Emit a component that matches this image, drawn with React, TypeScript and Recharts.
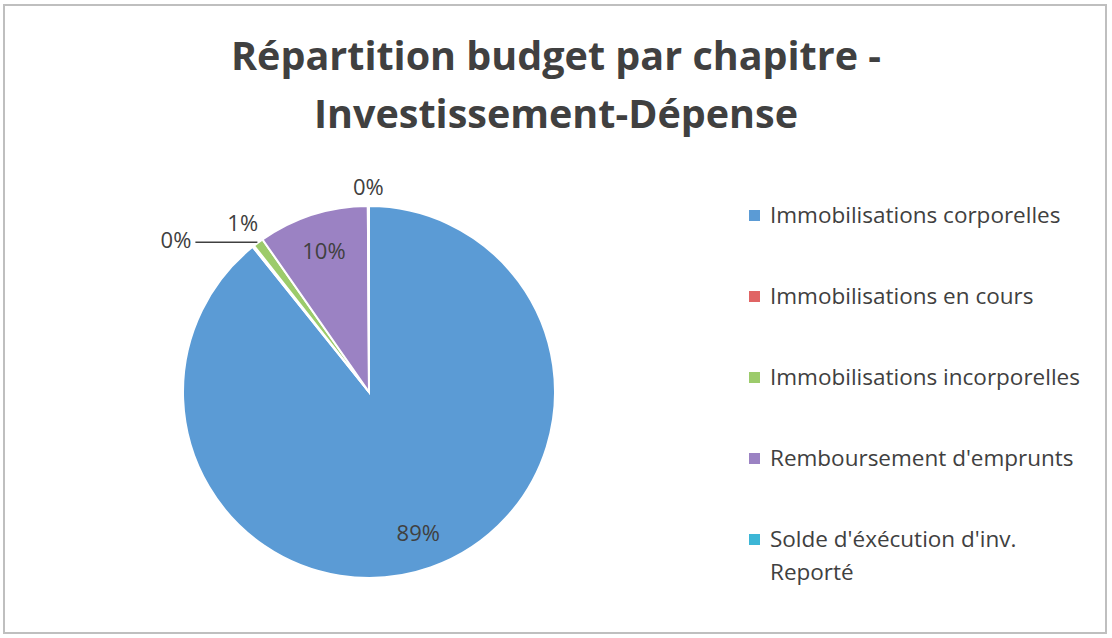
import { PieChart, Pie, Cell, Legend } from "recharts"

const categories = [
    "Immobilisations corporelles",
    "Immobilisations en cours",
    "Immobilisations incorporelles",
    "Remboursement d'emprunts",
    "Solde d'éxécution d'inv. Reporté",
]
const shares = [89.25, 0.15, 0.9, 9.6, 0.1]
const colors = ["#5b9bd5", "#e06464", "#9ccb6b", "#9b82c3", "#3cb6d6"]

const data = categories.map((name, i) => ({ name, value: shares[i] }))

const RAD = Math.PI / 180
const textColor = "#404040"
const labelSize = 22

function renderLabel(props: any) {
    const { cx, cy, midAngle, outerRadius, percent, index } = props
    const txt = `${Math.round(percent * 100)}%`
    const cos = Math.cos(-midAngle * RAD)
    const sin = Math.sin(-midAngle * RAD)
    if (index === 0 || index === 3) {
        const r = outerRadius * 0.8
        return (
            <text x={cx + r * cos} y={cy + r * sin} fill={textColor} fontSize={labelSize}
                textAnchor="middle" dominantBaseline="central" fontFamily="Open Sans">
                {txt}
            </text>
        )
    }
    if (index === 1) {
        // leader line pulled left, like the original
        const ex = cx + outerRadius * cos
        const ey = cy + outerRadius * sin - 4
        return (
            <g>
                <line x1={ex + 4} y1={ey} x2={ex - 58} y2={ey} stroke={textColor} strokeWidth={1.5} />
                <text x={ex - 62} y={ey - 3} fill={textColor} fontSize={labelSize}
                    textAnchor="end" dominantBaseline="central" fontFamily="Open Sans">
                    {txt}
                </text>
            </g>
        )
    }
    const r = outerRadius * (index === 2 ? 1.14 : 1.11)
    return (
        <text x={cx + r * cos} y={cy + r * sin} fill={textColor} fontSize={labelSize}
            textAnchor="middle" dominantBaseline="central" fontFamily="Open Sans">
            {txt}
        </text>
    )
}

function LegendList() {
    return (
        <div style={{ fontFamily: "Open Sans", fontSize: 22.5, color: textColor }}>
            {categories.map((c, i) => (
                <div key={c} style={{ display: "flex", alignItems: "flex-start", height: 81 }}>
                    <span style={{ width: 11, height: 11, background: colors[i], marginTop: 10, marginRight: 10, flex: "none" }} />
                    <span style={{ width: 340, lineHeight: "33px", marginTop: -2 }}>
                        {i === 4 ? <>Solde d'éxécution d'inv.<br />Reporté</> : c}
                    </span>
                </div>
            ))}
        </div>
    )
}

export default function App() {
    return (
        <div style={{ position: "absolute", left: 0, top: 0, width: 1112, height: 638, background: "#fff" }}>
            <div style={{
                position: "absolute", left: 3, top: 4, width: 1104, height: 630,
                border: "2px solid #bfbfbf", boxSizing: "border-box",
            }} />
            <div style={{
                position: "absolute", left: 0, top: 26, width: 1112, textAlign: "center",
                fontFamily: "Open Sans", fontWeight: 700, fontSize: 39.5, lineHeight: "58px", color: textColor,
            }}>
                Répartition budget par chapitre -<br />Investissement-Dépense
            </div>
            <div style={{ position: "absolute", left: 0, top: 0 }}>
                <PieChart width={1112} height={638}>
                    <Pie
                        data={data}
                        dataKey="value"
                        nameKey="name"
                        cx={364}
                        cy={387}
                        outerRadius={186}
                        startAngle={90}
                        endAngle={-270}
                        stroke="#fff"
                        strokeWidth={2}
                        label={renderLabel}
                        labelLine={false}
                        isAnimationActive={false}
                    >
                        {data.map((d, i) => (
                            <Cell key={d.name} fill={colors[i]} />
                        ))}
                    </Pie>
                    <Legend
                        layout="vertical"
                        align="right"
                        verticalAlign="top"
                        content={() => <LegendList />}
                        wrapperStyle={{ left: 749, top: 200, width: 360 }}
                    />
                </PieChart>
            </div>
        </div>
    )
}
